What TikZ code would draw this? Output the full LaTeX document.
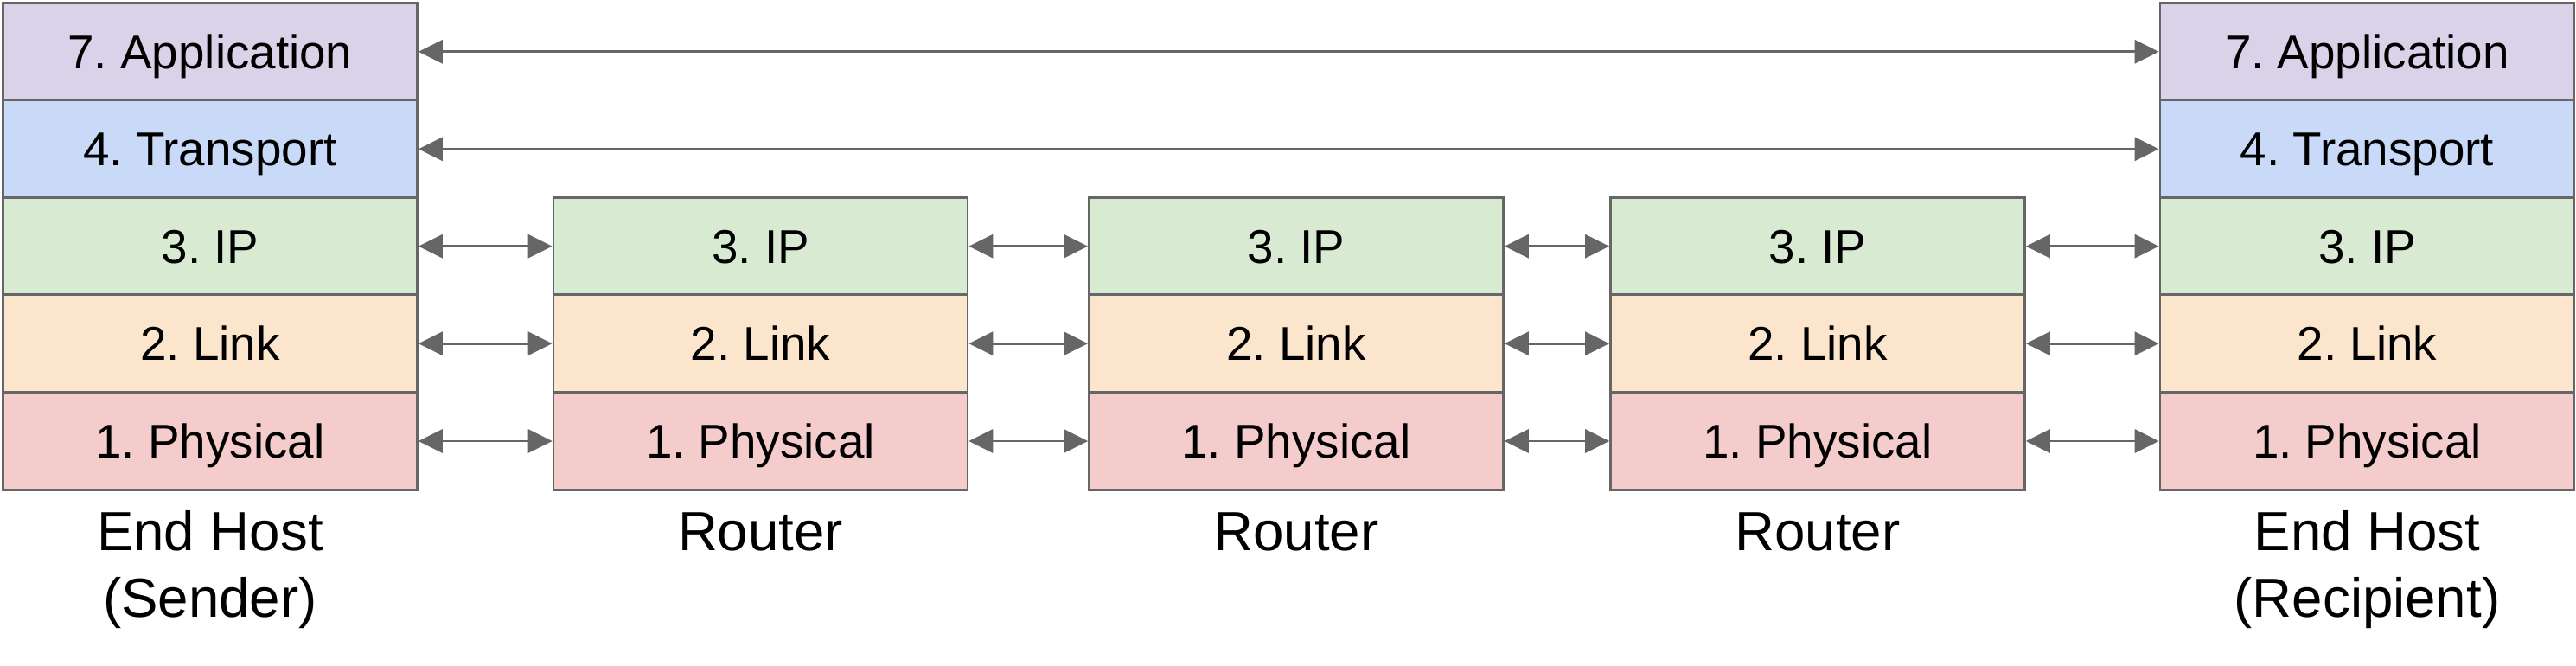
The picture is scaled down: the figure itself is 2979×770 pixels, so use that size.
\documentclass[tikz,border=0pt]{standalone}
\usepackage{fontspec}
\setmainfont{Liberation Sans}
\usetikzlibrary{arrows.meta}
\frenchspacing
\definecolor{edgegray}{HTML}{666666}
\definecolor{appcol}{HTML}{D9D2E9}
\definecolor{trcol}{HTML}{C9DAF8}
\definecolor{ipcol}{HTML}{D9EAD3}
\definecolor{linkcol}{HTML}{FCE5CD}
\definecolor{phycol}{HTML}{F4CCCC}
\tikzset{
  layer/.style={draw=edgegray, line width=0.68pt, minimum width=119.75pt,
    minimum height=28.17pt, inner sep=0pt, text height=9.74pt, text depth=0pt,
    font=\fontsize{13.7pt}{16pt}\selectfont, text=black},
  applayer/.style={layer, fill=appcol},
  trlayer/.style={layer, fill=trcol},
  iplayer/.style={layer, fill=ipcol},
  linklayer/.style={layer, fill=linkcol},
  phylayer/.style={layer, fill=phycol},
  devlabel/.style={inner sep=0pt, anchor=base, align=center,
    font=\fontsize{15.9pt}{19.15pt}\selectfont, text=black},
  conn/.style={draw=edgegray, line width=0.68pt,
    {Triangle[length=7pt,width=6.8pt]}-{Triangle[length=7pt,width=6.8pt]}}
}
\begin{document}
\frenchspacing
\begin{tikzpicture}[x=0.25pt,y=-0.25pt]
\useasboundingbox (0,0) rectangle (2979,770);
% left end host
\node[applayer]  (hLapp)  at (243,59.8)  {7. Application};
\node[trlayer]   (hLtr)   at (243,172.3) {4. Transport};
\node[iplayer]   (hLip)   at (243,284.7) {3. IP};
\node[linklayer] (hLlink) at (243,397.2) {2. Link};
\node[phylayer]  (hLphy)  at (243,510)   {1. Physical};
% right end host
\node[applayer]  (hRapp)  at (2737.5,59.8)  {7. Application};
\node[trlayer]   (hRtr)   at (2737.5,172.3) {4. Transport};
\node[iplayer]   (hRip)   at (2737.5,284.7) {3. IP};
\node[linklayer] (hRlink) at (2737.5,397.2) {2. Link};
\node[phylayer]  (hRphy)  at (2737.5,510)   {1. Physical};
% routers
\foreach \r/\x in {rA/879.5, rB/1499, rC/2102}{
  \node[iplayer]   (\r ip)   at (\x,284.7) {3. IP};
  \node[linklayer] (\r link) at (\x,397.2) {2. Link};
  \node[phylayer]  (\r phy)  at (\x,510)   {1. Physical};
  \node[devlabel]  (\r lab)  at (\x,636.7) {Router};
}
% device labels (base anchor = last line's baseline)
\node[devlabel] (hLlab) at (243,713.3) {End Host\\(Sender)};
\node[devlabel] (hRlab) at (2737.5,713.3) {End Host\\(Recipient)};
% connectors
\draw[conn] (hLapp.east) -- (hRapp.west);
\draw[conn] (hLtr.east) -- (hRtr.west);
\foreach \l in {ip,link,phy}{
  \draw[conn] (hL\l.east) -- (rA\l.west);
  \draw[conn] (rA\l.east) -- (rB\l.west);
  \draw[conn] (rB\l.east) -- (rC\l.west);
  \draw[conn] (rC\l.east) -- (hR\l.west);
}
\end{tikzpicture}
\end{document}
